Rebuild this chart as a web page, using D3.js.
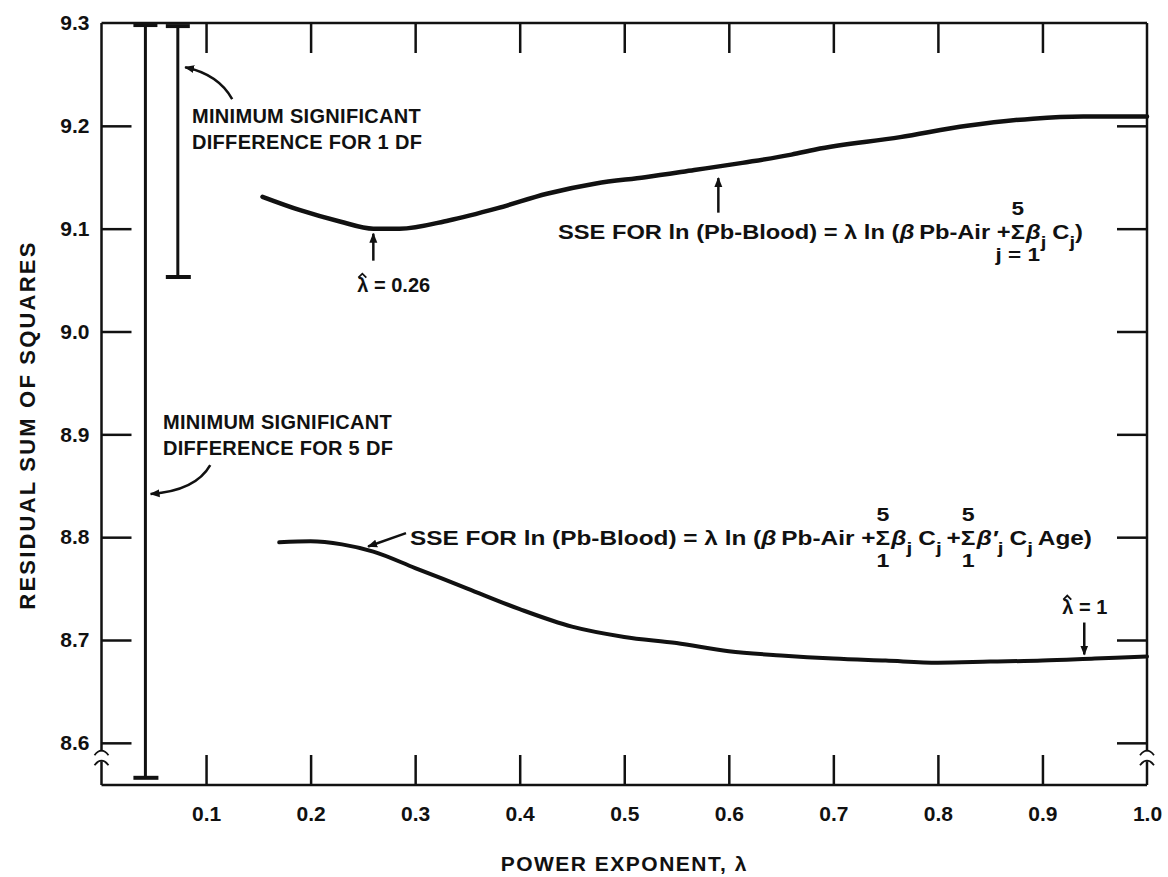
<!DOCTYPE html>
<html>
<head>
<meta charset="utf-8">
<script src="https://cdn.jsdelivr.net/npm/d3@7"></script>
<style>
  html, body { margin: 0; padding: 0; background: #fff; }
  svg { display: block; }
  text { font-family: "Liberation Sans", Arial, Helvetica, sans-serif; font-weight: bold; fill: #111; }
</style>
</head>
<body>
<svg id="chart" width="1168" height="877"></svg>
<script>
// ---------------- data ----------------
const xTicks = [0.1, 0.2, 0.3, 0.4, 0.5, 0.6, 0.7, 0.8, 0.9, 1.0];
const yTicks = [8.6, 8.7, 8.8, 8.9, 9.0, 9.1, 9.2, 9.3];

// SSE curve, model without age interaction (upper)
const upperLambda = [0.154, 0.19, 0.228, 0.26, 0.285, 0.332, 0.379, 0.426, 0.473, 0.52, 0.567, 0.613, 0.66, 0.683, 0.764, 0.828, 0.891, 0.939, 1.0];
const upperSSE    = [9.131, 9.118, 9.107, 9.100, 9.100, 9.108, 9.120, 9.134, 9.144, 9.150, 9.157, 9.164, 9.172, 9.177, 9.189, 9.200, 9.207, 9.209, 9.209];

// SSE curve, model with age interaction (lower)
const lowerLambda = [0.17, 0.20, 0.23, 0.26, 0.30, 0.35, 0.40, 0.45, 0.50, 0.55, 0.60, 0.65, 0.70, 0.75, 0.80, 0.85, 0.90, 0.95, 1.00];
const lowerSSE    = [8.795, 8.796, 8.793, 8.786, 8.770, 8.750, 8.730, 8.713, 8.703, 8.697, 8.689, 8.685, 8.682, 8.680, 8.678, 8.679, 8.680, 8.682, 8.684];

// minimum significant difference bars
const msdLabels = ["1 DF", "5 DF"];
const msdX      = [0.073, 0.042];
const msdLow    = [9.053, 8.566];
const msdHigh   = [9.297, 9.298];

// estimated optima
const lambdaHat = [0.26, 0.94];
const lambdaHatLabel = ["0.26", "1"];

// ---------------- layout ----------------
const svg = d3.select("#chart");
const x = d3.scaleLinear().domain([0, 1]).range([101.5, 1147]);
const y = d3.scaleLinear().domain([8.559, 9.3]).range([785, 23]);
const ink = "#111";

svg.append("defs").append("marker")
  .attr("id", "ah").attr("viewBox", "0 0 10 10").attr("refX", 9).attr("refY", 5)
  .attr("markerWidth", 10).attr("markerHeight", 10).attr("markerUnits", "userSpaceOnUse")
  .attr("orient", "auto")
  .append("path").attr("d", "M0,1 L10,5 L0,9 Z").attr("fill", ink);

// frame with axis breaks
const frame = svg.append("g").attr("stroke", ink).attr("stroke-width", 2.5).attr("fill", "none");
const yBreak = 8.587;
frame.append("line").attr("x1", x(0)).attr("x2", x(1)).attr("y1", y(9.3)).attr("y2", y(9.3));
frame.append("line").attr("x1", x(0)).attr("x2", x(1)).attr("y1", y.range()[0]).attr("y2", y.range()[0]);
[0, 1].forEach(v => {
  const xx = x(v);
  const by = y(yBreak);
  frame.append("line").attr("x1", xx).attr("x2", xx).attr("y1", y(9.3)).attr("y2", by - 5);
  frame.append("line").attr("x1", xx).attr("x2", xx).attr("y1", by + 5).attr("y2", y.range()[0]);
  frame.append("path").attr("stroke-width", 1.8)
    .attr("d", `M${xx-7},${by-1} Q${xx},${by-10} ${xx+7},${by-1}`);
  frame.append("path").attr("stroke-width", 1.8)
    .attr("d", `M${xx-7},${by+9} Q${xx},${by} ${xx+7},${by+9}`);
});

const tickLen = 30;
function styleAxis(g) {
  g.select(".domain").remove();
  g.selectAll(".tick line").attr("stroke", ink).attr("stroke-width", 2.5);
  g.selectAll(".tick text").attr("font-size", 21).attr("font-weight", "bold")
    .attr("font-family", '"Liberation Sans", Arial, sans-serif').attr("fill", ink);
}
// bottom
svg.append("g").attr("transform", `translate(0,${y.range()[0]})`)
  .call(d3.axisBottom(x).tickValues(xTicks).tickSize(-tickLen).tickFormat(d3.format(".1f")))
  .call(styleAxis)
  .call(g => g.selectAll(".tick line").attr("y2", v => v === 1 ? 0 : -tickLen))
  .call(g => g.selectAll(".tick text").attr("dy", null).attr("y", 36));
// top
svg.append("g").attr("transform", `translate(0,${y(9.3)})`)
  .call(d3.axisTop(x).tickValues(xTicks.filter(v => v < 1)).tickSize(-tickLen).tickFormat(""))
  .call(styleAxis);
// left
svg.append("g").attr("transform", `translate(${x(0)},0)`)
  .call(d3.axisLeft(y).tickValues(yTicks).tickSize(-tickLen).tickFormat(d3.format(".1f")))
  .call(styleAxis)
  .call(g => g.selectAll(".tick line").attr("x2", v => v === 9.3 ? 0 : tickLen))
  .call(g => g.selectAll(".tick text").attr("x", -12));
// right
svg.append("g").attr("transform", `translate(${x(1)},0)`)
  .call(d3.axisRight(y).tickValues(yTicks.filter(v => v < 9.3)).tickSize(-tickLen).tickFormat(""))
  .call(styleAxis);

// axis titles
svg.append("text").attr("x", x(0.5)).attr("y", 871).attr("text-anchor", "middle")
  .attr("font-size", 21).attr("letter-spacing", 1.5).text("POWER EXPONENT, λ");
svg.append("text").attr("transform", `translate(35,${y(8.909)}) rotate(-90)`).attr("text-anchor", "middle")
  .attr("font-size", 22).attr("letter-spacing", 2.2).text("RESIDUAL SUM OF SQUARES");

// MSD bars
const bars = svg.append("g").attr("stroke", ink).attr("stroke-width", 3);
msdX.forEach((v, i) => {
  const cx = x(v);
  bars.append("line").attr("x1", cx).attr("x2", cx).attr("y1", y(msdHigh[i])).attr("y2", y(msdLow[i]));
  bars.append("line").attr("x1", cx - 12).attr("x2", cx + 12).attr("y1", y(msdHigh[i])).attr("y2", y(msdHigh[i])).attr("stroke-width", 4);
  bars.append("line").attr("x1", cx - 12).attr("x2", cx + 13).attr("y1", y(msdLow[i])).attr("y2", y(msdLow[i])).attr("stroke-width", 4);
});

// curves
const line = d3.line().curve(d3.curveMonotoneX).x(d => x(d[0])).y(d => y(d[1]));
svg.append("path").datum(upperLambda.map((v, i) => [v, upperSSE[i]]))
  .attr("d", line).attr("fill", "none").attr("stroke", ink).attr("stroke-width", 4.5).attr("stroke-linecap", "round");
svg.append("path").datum(lowerLambda.map((v, i) => [v, lowerSSE[i]]))
  .attr("d", line).attr("fill", "none").attr("stroke", ink).attr("stroke-width", 4).attr("stroke-linecap", "round");

// MSD labels with curved arrows
function msdLabel(tx, ty, dfLabel) {
  const t = svg.append("text").attr("x", tx).attr("y", ty).attr("font-size", 20).attr("letter-spacing", 0.3);
  t.append("tspan").attr("x", tx).attr("dy", 0).text("MINIMUM SIGNIFICANT");
  t.append("tspan").attr("x", tx).attr("dy", 26).text("DIFFERENCE FOR " + dfLabel);
}
msdLabel(192, y(9.2) - 3, msdLabels[0]);
msdLabel(163, y(8.905), msdLabels[1]);
svg.append("path").attr("fill", "none").attr("stroke", ink).attr("stroke-width", 2.5).attr("marker-end", "url(#ah)")
  .attr("d", `M${x(0.125)},${y(9.226)} Q${x(0.112)},${y(9.25)} ${x(0.08)},${y(9.257)}`);
svg.append("path").attr("fill", "none").attr("stroke", ink).attr("stroke-width", 2.5).attr("marker-end", "url(#ah)")
  .attr("d", `M${x(0.104)},${y(8.87)} Q${x(0.09)},${y(8.845)} ${x(0.047)},${y(8.842)}`);

// lambda-hat annotations
function lamHat(cx, cyText, label) {
  const g = svg.append("g");
  const t = g.append("text").attr("x", cx).attr("y", cyText).attr("font-size", 20).attr("text-anchor", "start");
  t.append("tspan").text("λ");
  t.append("tspan").text(" = " + label);
  const bb = t.node().getBBox();
  const lx = bb.x + 5;
  g.append("path").attr("fill", "none").attr("stroke", ink).attr("stroke-width", 1.8)
    .attr("d", `M${lx-4},${bb.y + 4} L${lx},${bb.y} L${lx+4},${bb.y + 4}`);
  return bb;
}
lamHat(x(lambdaHat[0]) - 16, y(9.1) + 63, lambdaHatLabel[0]);
svg.append("line").attr("x1", x(lambdaHat[0])).attr("x2", x(lambdaHat[0]))
  .attr("y1", y(9.1) + 32).attr("y2", y(9.1) + 5).attr("stroke", ink).attr("stroke-width", 2.5).attr("marker-end", "url(#ah)");
lamHat(x(lambdaHat[1]) - 22, y(8.682) - 45, lambdaHatLabel[1]);
svg.append("line").attr("x1", x(lambdaHat[1])).attr("x2", x(lambdaHat[1]))
  .attr("y1", y(8.682) - 36).attr("y2", y(8.682) - 4).attr("stroke", ink).attr("stroke-width", 2.5).attr("marker-end", "url(#ah)");

// equations built piece by piece
function equation(x0, baseline, pieces, targetWidth) {
  const g = svg.append("g");
  let cx = 0;
  pieces.forEach(p => {
    if (p.sigma) {
      const t = g.append("text").attr("x", cx).attr("y", 0).attr("font-size", 20).text("Σ");
      const w = t.node().getComputedTextLength();
      g.append("text").attr("x", cx + w / 2).attr("y", -24).attr("text-anchor", "middle").attr("font-size", 19).text(p.top);
      g.append("text").attr("x", cx + w / 2).attr("y", 22).attr("text-anchor", "middle").attr("font-size", 19).text(p.bottom);
      cx += w + 1;
    } else {
      const t = g.append("text").attr("x", cx).attr("y", p.sub ? 9 : 0)
        .attr("font-size", p.sub ? 17 : 20)
        .attr("font-style", p.italic ? "italic" : null)
        .text(p.t);
      cx += t.node().getComputedTextLength() + (p.gap || 0);
    }
  });
  const s = targetWidth / cx;
  g.attr("transform", `translate(${x0},${baseline}) scale(${s},1)`);
  return g;
}
const eqHead = [{t: "SSE FOR ln (Pb-Blood) = λ ln ("}, {t: "β", italic: true, gap: 4}, {t: "Pb-Air + "}];
equation(558, y(9.1) + 10, eqHead.concat([
  {sigma: true, top: "5", bottom: "j = 1"}, {t: "β", italic: true}, {t: "j", sub: true, gap: 5}, {t: "C"}, {t: "j", sub: true}, {t: ")"}
]), 525);
equation(410, y(8.8) + 8, eqHead.concat([
  {sigma: true, top: "5", bottom: "1"}, {t: "β", italic: true}, {t: "j", sub: true, gap: 5}, {t: "C"}, {t: "j", sub: true, gap: 4}, {t: "+ "},
  {sigma: true, top: "5", bottom: "1"}, {t: "β′", italic: true}, {t: "j", sub: true, gap: 5}, {t: "C"}, {t: "j", sub: true, gap: 4}, {t: "Age)"}
]), 682);

// label arrows for equations
svg.append("line").attr("x1", x(0.590)).attr("x2", x(0.590)).attr("y1", y(9.1) - 16).attr("y2", y(9.155) + 6)
  .attr("stroke", ink).attr("stroke-width", 2.5).attr("marker-end", "url(#ah)");
svg.append("line").attr("x1", 406).attr("x2", x(0.255)).attr("y1", y(8.8) - 4).attr("y2", y(8.787) - 4)
  .attr("stroke", ink).attr("stroke-width", 2.5).attr("marker-end", "url(#ah)");
</script>
</body>
</html>
